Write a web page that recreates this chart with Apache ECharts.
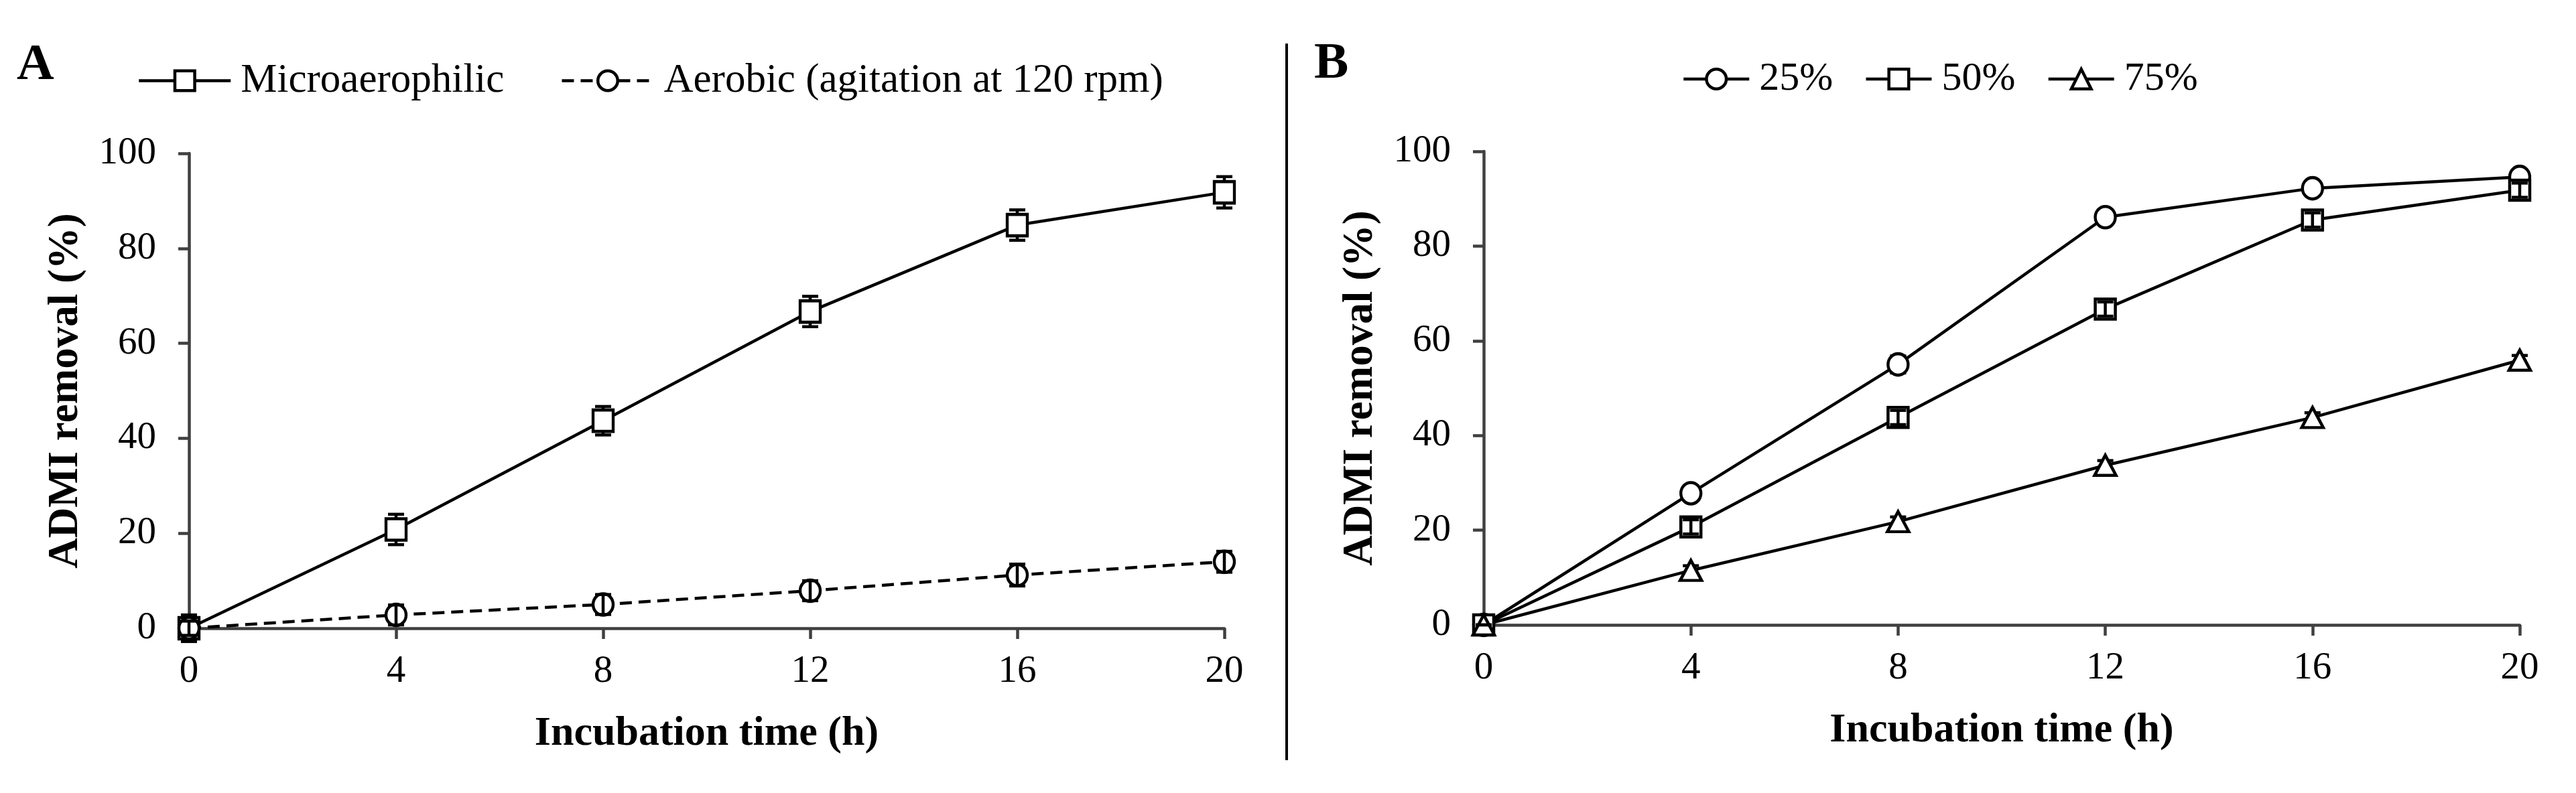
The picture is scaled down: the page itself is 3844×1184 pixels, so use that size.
<!DOCTYPE html>
<html>
<head>
<meta charset="utf-8">
<script src="https://cdn.jsdelivr.net/npm/echarts@6/dist/echarts.min.js"></script>
<style>
  html, body { margin: 0; padding: 0; background: #fff; }
  #chart { width: 3844px; height: 1184px; }
</style>
</head>
<body>
<div id="chart"></div>
<script>
// incubation time (h)
var hours = [0, 4, 8, 12, 16, 20];

// panel A
var microVals = [0, 20.8, 43.7, 66.7, 84.9, 91.8];
var microErr = [2.8, 3.2, 3.0, 3.2, 3.2, 3.3];
var aerobicVals = [0, 2.8, 5.0, 7.9, 11.2, 14.0];
var aerobicErr = [1.5, 2.1, 2.1, 2.1, 2.3, 2.2];

// panel B
var p25Vals = [0, 27.8, 55.0, 86.1, 92.2, 94.6];
var p50Vals = [0, 20.7, 43.8, 66.7, 85.5, 91.8];
var p75Vals = [0, 11.5, 21.8, 33.7, 43.8, 55.9];
var p25Err = [0, 1.5, 1.8, 1.5, 1.5, 1.2];
var p50Err = [0, 1.5, 1.5, 1.5, 1.5, 1.5];
var p75Err = [0, 1.0, 1.0, 1.0, 1.0, 1.0];

var yTicks = [0, 20, 40, 60, 80, 100];

var FONT = "Liberation Serif";
var AXIS_GREY = "#404040";

function pts(vals) {
  return hours.map(function (h, i) { return [h, vals[i]]; });
}
function errs(vals, e) {
  return hours.map(function (h, i) { return [h, vals[i] - e[i], vals[i] + e[i]]; });
}

function errorBar(params, api) {
  var x = api.value(0);
  var top = api.coord([x, api.value(2)]);
  var bot = api.coord([x, api.value(1)]);
  var cap = 12;
  var st = { stroke: "#000", lineWidth: 4.5 };
  return {
    type: "group",
    children: [
      { type: "line", shape: { x1: top[0], y1: top[1], x2: bot[0], y2: bot[1] }, style: st },
      { type: "line", shape: { x1: top[0] - cap, y1: top[1], x2: top[0] + cap, y2: top[1] }, style: st },
      { type: "line", shape: { x1: bot[0] - cap, y1: bot[1], x2: bot[0] + cap, y2: bot[1] }, style: st }
    ]
  };
}

function xAxis(idx) {
  return {
    type: "value", gridIndex: idx, min: 0, max: 20, interval: 4,
    name: "Incubation time (h)", nameLocation: "middle", nameGap: 127,
    nameTextStyle: { fontFamily: FONT, fontWeight: "bold", fontSize: 62, color: "#000" },
    axisLine: { onZero: false, lineStyle: { color: AXIS_GREY, width: 4.5 } },
    axisTick: { length: 16, lineStyle: { color: AXIS_GREY, width: 4.5 } },
    axisLabel: { margin: 37, fontFamily: FONT, fontSize: 57, color: "#000" },
    splitLine: { show: false }
  };
}
function yAxis(idx) {
  return {
    type: "value", gridIndex: idx, min: yTicks[0], max: yTicks[yTicks.length - 1], interval: 20,
    name: "ADMI removal (%)", nameLocation: "middle", nameGap: 152,
    nameTextStyle: { fontFamily: FONT, fontWeight: "bold", fontSize: 63, color: "#000" },
    axisLine: { show: true, lineStyle: { color: AXIS_GREY, width: 4.5 } },
    axisTick: { show: true, length: 16, lineStyle: { color: AXIS_GREY, width: 4.5 } },
    axisLabel: { margin: 49, fontFamily: FONT, fontSize: 57, color: "#000" },
    splitLine: { show: false }
  };
}

function lineSeries(name, idx, vals, symbol, size, dashed) {
  return {
    name: name, type: "line", xAxisIndex: idx, yAxisIndex: idx,
    data: pts(vals), symbol: symbol, symbolSize: size, showAllSymbol: true,
    lineStyle: { color: "#000", width: 4.5, type: dashed ? [18, 10] : "solid" },
    itemStyle: { color: "#fff", borderColor: "#000", borderWidth: 4.5 },
    z: 2, animation: false
  };
}
function errSeries(idx, vals, e, z) {
  return {
    type: "custom", xAxisIndex: idx, yAxisIndex: idx,
    data: errs(vals, e), renderItem: errorBar, z: z, animation: false, silent: true
  };
}

var legendBase = {
  padding: 0, itemHeight: 37,
  lineStyle: { width: 4.5 },
  itemStyle: { borderWidth: 4.5, borderColor: "#000", color: "#fff" }
};

var chart = echarts.init(document.getElementById("chart"));

chart.setOption({
  backgroundColor: "#fff",
  title: [
    { text: "A", left: 25, top: 60, padding: 0,
      textStyle: { fontFamily: FONT, fontWeight: "bold", fontSize: 77, color: "#000" } },
    { text: "B", left: 1961, top: 58, padding: 0,
      textStyle: { fontFamily: FONT, fontWeight: "bold", fontSize: 77, color: "#000" } }
  ],
  legend: [
    Object.assign({}, legendBase, {
      data: ["Microaerophilic", "Aerobic (agitation at 120 rpm)"],
      left: 205, top: 90, itemWidth: 137, itemGap: 84,
      textStyle: { fontFamily: FONT, fontSize: 61, color: "#000", padding: [0, 0, 0, 10] } }),
    Object.assign({}, legendBase, {
      data: ["25%", "50%", "75%"],
      left: 2510, top: 88, itemWidth: 98, itemGap: 47,
      textStyle: { fontFamily: FONT, fontSize: 60, color: "#000", padding: [0, 0, 0, 10] } })
  ],
  grid: [
    { left: 282, right: 3844 - 1827, top: 229, bottom: 1184 - 938 },
    { left: 2214, right: 3844 - 3760, top: 226, bottom: 1184 - 933 }
  ],
  xAxis: [xAxis(0), xAxis(1)],
  yAxis: [yAxis(0), yAxis(1)],
  graphic: [
    { type: "line", shape: { x1: 1920, y1: 65, x2: 1920, y2: 1135 },
      style: { stroke: "#000", lineWidth: 4 } }
  ],
  series: [
    errSeries(0, microVals, microErr, 1),
    lineSeries("Microaerophilic", 0, microVals, "rect", [30, 32], false),
    lineSeries("Aerobic (agitation at 120 rpm)", 0, aerobicVals, "circle", [30, 32], true),
    errSeries(0, aerobicVals, aerobicErr, 3),
    lineSeries("25%", 1, p25Vals, "circle", [30, 32], false),
    lineSeries("50%", 1, p50Vals, "rect", [30, 30], false),
    lineSeries("75%", 1, p75Vals, "triangle", [32, 30], false),
    errSeries(1, p25Vals, p25Err, 1),
    errSeries(1, p50Vals, p50Err, 3),
    errSeries(1, p75Vals, p75Err, 1)
  ]
});
</script>
</body>
</html>
